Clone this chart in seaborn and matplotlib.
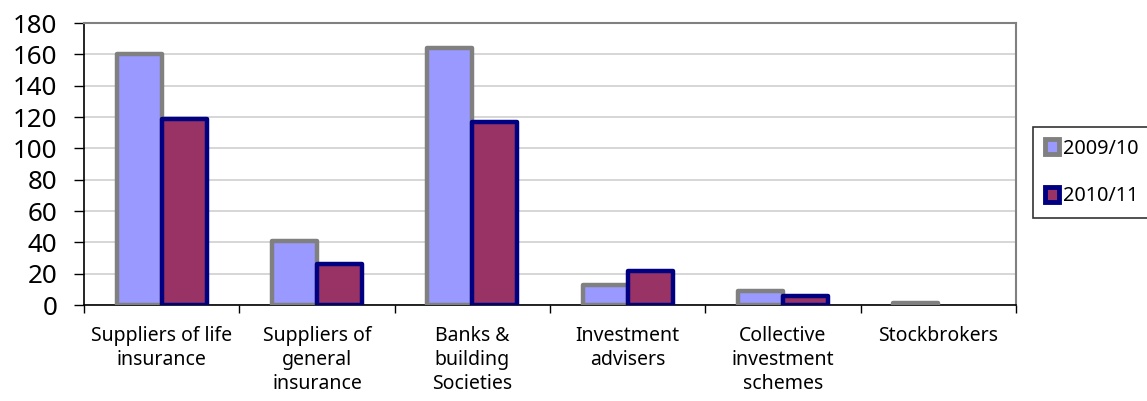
import matplotlib
matplotlib.use("Agg")
import matplotlib.pyplot as plt
import seaborn as sns
import pandas as pd
from matplotlib.patches import Patch

categories = ["Suppliers of life\ninsurance", "Suppliers of\ngeneral\ninsurance",
              "Banks &\nbuilding\nSocieties", "Investment\nadvisers",
              "Collective\ninvestment\nschemes", "Stockbrokers"]
series_names = ["2009/10", "2010/11"]
values_0910 = [160, 41, 164, 13, 9, 1]
values_1011 = [119, 26, 117, 22, 6, 0]

fills = ["#9999FF", "#993366"]
edges = ["#808080", "#000080"]

df = pd.DataFrame({
    "category": categories * 2,
    "year": [series_names[0]] * len(categories) + [series_names[1]] * len(categories),
    "value": values_0910 + values_1011,
})

sns.set_theme(style="white")
plt.rcParams["font.family"] = ["Noto Sans", "DejaVu Sans"]
plt.rcParams["text.color"] = "black"
plt.rcParams["xtick.color"] = "black"
plt.rcParams["ytick.color"] = "black"

fig = plt.figure(figsize=(11.47, 4.01), dpi=100)
ax = fig.add_axes([0.0732, 0.2394, 0.8126, 0.7032])

sns.barplot(data=df, x="category", y="value", hue="year", order=categories,
            hue_order=series_names, palette=fills, width=0.58, ax=ax,
            legend=False, saturation=1)

n = len(categories)
for i, bar in enumerate(ax.patches[:2 * n]):
    s = i // n
    bar.set_edgecolor(edges[s])
    bar.set_linewidth(3.2)
    bar.set_joinstyle("round")
    bar.set_zorder(3 + s)
    if bar.get_height() == 0:
        bar.set_visible(False)

ax.set_ylim(0, 180)
ax.set_xlim(-0.5, n - 0.5)
ax.set_yticks(range(0, 181, 20))
ax.yaxis.grid(True, color="#d0d0d0", linewidth=1.2)
ax.set_axisbelow(True)
ax.set_xlabel("")
ax.set_ylabel("")

ax.set_xticks(range(n))
ax.set_xticklabels(categories, fontsize=14, linespacing=1.28, color="black")
ax.tick_params(axis="x", length=0, pad=15)
ax.tick_params(axis="y", labelsize=18.7, length=7, width=1, color="#000000",
               direction="out", pad=12, left=True, labelcolor="black")
ax.set_xticks([i - 0.5 for i in range(n + 1)], minor=True)
ax.tick_params(axis="x", which="minor", length=6, width=1, color="#000000", direction="out", bottom=True)

for side in ["top", "right"]:
    ax.spines[side].set_color("#808080")
    ax.spines[side].set_linewidth(1.5)
for side in ["left", "bottom"]:
    ax.spines[side].set_color("#000000")
    ax.spines[side].set_linewidth(1.2)

handles = [Patch(facecolor=fills[k], edgecolor=edges[k], linewidth=3.5) for k in range(2)]
leg = fig.legend(handles, series_names, loc="upper left",
                 bbox_to_anchor=(1033 / 1147, 0.46, 0.3, 1 - 127 / 401 - 0.46),
                 mode="expand", frameon=True, fontsize=14.3, handlelength=0.75, handleheight=0.75,
                 handletextpad=0.2, labelspacing=1.4, borderpad=0.58, fancybox=False,
                 borderaxespad=0)
leg.get_frame().set_edgecolor("#000000")
leg.get_frame().set_linewidth(1.2)
for t in leg.get_texts():
    t.set_color("black")

fig.savefig("out.png", dpi=100)
